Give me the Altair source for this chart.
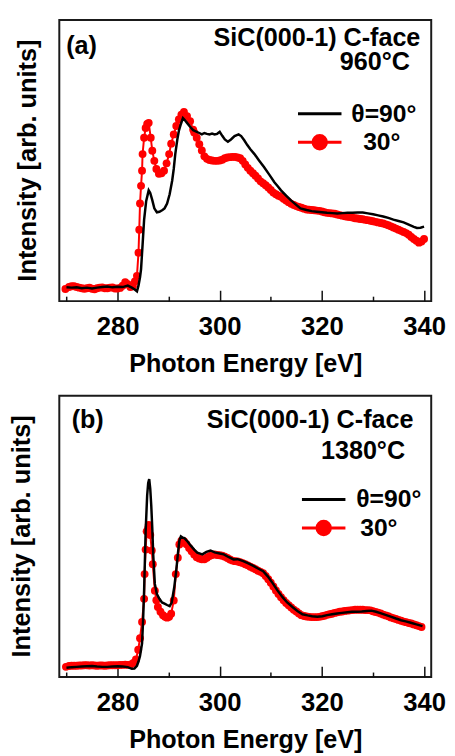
import altair as alt
import pandas as pd

# ---------------- data ----------------
# Panel (a): SiC(000-1) C-face, 960 C
a_black_e = [270.0, 271.0, 272.0, 273.0, 274.0, 275.0, 276.0, 277.0, 278.0, 279.0, 280.0, 281.0, 282.0,
             282.8, 283.3, 283.8, 284.1, 284.4, 284.6, 284.9, 285.2, 285.6, 286.1,
             286.4, 286.8, 287.2, 287.7, 288.2, 288.8, 289.2, 289.7, 290.2, 290.7,
             291.0, 291.3, 291.7, 292.0, 292.4, 292.8, 293.2, 293.6, 294.2, 294.8,
             295.2, 296.0, 296.5, 297.0, 297.5, 298.0, 298.5, 299.0, 299.5, 300.0,
             300.5, 301.0, 301.6, 302.2, 302.9, 303.7, 304.2, 304.8, 305.4, 306.0,
             306.8, 307.7, 308.7, 309.7, 310.7, 311.4, 312.0, 313.0, 313.9, 314.8,
             315.8, 317.0, 318.0, 319.0, 320.0, 321.0, 322.0, 323.0, 324.0, 325.0, 326.0,
             327.0, 328.0, 329.0, 330.0, 331.0, 332.0, 333.0, 334.0, 335.0, 336.0, 337.0, 338.0,
             338.6, 339.3, 340.0]
a_black_i = [4.9, 4.8, 4.9, 4.6, 4.8, 4.5, 4.8, 5.0, 5.2, 4.9, 5.1, 5.0, 5.5,
             4.8, 4.2, 3.5, 5.5, 8.5, 11.3, 20.0, 28.9, 35.5, 39.4,
             38.5, 35.9, 33.0, 31.6, 31.8, 32.4, 33.0, 34.7, 38.0, 42.9,
             47.0, 52.3, 57.5, 60.5, 63.0, 65.1, 64.3, 63.4, 62.0, 60.8,
             60.5, 59.8, 59.3, 59.8, 59.5, 59.3, 59.6, 59.3, 59.5, 60.2,
             58.8, 57.5, 56.7, 57.5, 58.7, 59.3, 58.7, 57.2, 55.5, 54.0,
             52.3, 50.0, 47.6, 45.0, 42.3, 40.8, 39.4, 37.5, 35.9, 34.5,
             33.0, 32.4, 32.0, 31.8, 31.6, 31.4, 31.3, 31.2, 31.3, 31.4, 31.4,
             31.5, 31.5, 31.2, 30.9, 30.5, 30.1, 29.6, 29.0, 28.5, 28.0, 27.2, 26.4,
             26.0, 26.1, 26.5]
a_red_e = [269.8, 270.5, 271.0, 271.5, 272.0, 272.5, 273.0, 273.5, 274.0, 274.5,
           275.0, 275.5, 276.0, 276.5, 277.0, 277.5, 278.0, 278.5, 279.0, 279.5,
           280.0, 280.5, 281.0, 281.5, 282.0, 282.5, 283.0,
           283.4, 283.8, 284.1, 284.25, 284.4, 284.6, 284.8, 284.9, 285.2, 285.5,
           285.8, 286.1, 286.5, 286.8, 287.2, 287.6, 288.1, 288.6, 289.1, 289.6,
           290.1, 290.5, 291.0, 291.5, 292.0, 292.5, 293.0, 293.6, 294.2, 294.8,
           295.0, 295.5, 296.0, 296.5, 297.0, 297.5, 298.0, 298.5, 299.0, 299.5,
           300.0, 300.5, 301.0, 301.5, 302.0, 302.5, 303.0, 303.5, 304.0, 304.5,
           305.0, 305.5, 306.0, 306.5, 307.0, 307.5, 308.0, 308.5, 309.0, 309.5,
           310.0, 310.5, 311.0, 311.5, 312.0, 312.5, 313.0, 313.5, 314.0, 314.5,
           315.0, 315.5, 316.0, 316.5, 317.0, 317.5, 318.0, 318.5, 319.0, 319.5,
           320.0, 320.5, 321.0, 321.5, 322.0, 322.5, 323.0, 323.5, 324.0, 324.5,
           325.0, 325.5, 326.0, 326.5, 327.0, 327.5, 328.0, 328.5, 329.0, 329.5,
           330.0, 330.5, 331.0, 331.5, 332.0, 332.5, 333.0, 333.5, 334.0, 334.5,
           335.0, 335.5, 336.0, 336.5, 337.0, 337.5, 338.0, 338.5, 339.0, 339.5,
           340.0]
a_red_i = [4.3, 5.0, 5.3, 5.3, 5.0, 4.8, 4.6, 4.4, 4.6, 4.8,
           4.4, 4.2, 4.6, 4.8, 4.9, 4.6, 4.6, 4.8, 4.9, 4.5,
           4.5, 4.7, 5.5, 6.7, 6.0, 5.0, 5.3,
           7.0, 9.0, 17.2, 25.4, 34.7, 41.0, 46.4, 52.3, 58.1, 61.6,
           63.0, 63.4, 58.1, 53.5, 49.9, 47.0, 45.3, 45.5, 46.4, 49.0,
           52.3, 56.0, 59.3, 62.3, 64.6, 66.3, 67.3, 65.8, 64.0, 61.0,
           60.0, 58.1, 55.8, 53.6, 51.5, 50.6, 50.2, 50.0, 49.9, 49.9,
           50.0, 50.3, 50.8, 51.1, 51.2, 51.3, 51.3, 51.1, 50.8, 49.9,
           48.6, 47.4, 46.4, 45.5, 44.6, 43.6, 42.6, 41.9, 41.2, 40.4,
           39.5, 38.6, 38.0, 37.5, 37.1, 36.4, 35.8, 35.2, 34.6, 34.2,
           33.8, 33.5, 33.2, 32.9, 32.6, 32.5, 32.4, 32.3, 32.2, 32.1,
           31.9, 31.6, 31.4, 31.3, 31.2, 31.1, 30.8, 30.6, 30.4, 30.2,
           30.0, 29.9, 29.7, 29.5, 29.4, 29.2, 29.1, 28.9, 28.8, 28.6,
           28.4, 28.2, 28.0, 27.8, 27.6, 27.3, 27.0, 26.6, 26.2, 25.8,
           25.4, 25.0, 24.6, 24.2, 23.6, 22.8, 22.1, 21.5, 20.8, 21.2,
           22.1]

# Panel (b): SiC(000-1) C-face, 1380 C
b_black_e = [270.0, 271.0, 272.0, 273.0, 274.0, 275.0, 276.0, 277.0, 278.0, 279.0, 280.0, 281.0, 282.0,
             282.8, 283.3, 283.8, 284.1, 284.4, 284.8, 285.0, 285.2, 285.5, 285.8,
             286.0, 286.2, 286.4, 286.6, 286.8, 287.0, 287.3, 287.7, 288.2, 288.7,
             289.2, 289.7, 290.2, 290.6, 291.1, 291.5, 291.8, 292.1, 292.4, 292.8,
             293.1, 293.7, 294.3, 295.0, 295.6, 296.6, 297.4, 298.2, 299.0, 300.0,
             300.8, 301.8, 302.7, 303.5, 304.6, 305.6, 306.6, 307.5, 308.5, 309.4,
             310.4, 311.3, 312.3, 313.2, 314.3, 315.2, 316.2, 317.2, 318.1, 319.1,
             320.1, 321.0, 322.0, 323.0, 323.9, 325.0, 325.9, 326.9, 327.8, 328.8,
             329.7, 330.6, 331.6, 332.6, 333.6, 334.5, 335.5, 336.4, 337.4, 338.5,
             339.7]
b_black_i = [3.3, 3.5, 3.6, 3.7, 3.8, 3.9, 3.7, 3.6, 3.6, 3.7, 3.8, 3.7, 3.5,
             2.9, 3.0, 4.0, 5.5, 7.5, 12.0, 20.0, 30.7, 51.8, 64.6,
             69.0, 70.4, 67.0, 61.0, 52.9, 43.0, 33.1, 29.5, 27.8, 26.5,
             26.1, 25.6, 25.2, 26.5, 31.9, 38.0, 43.6, 48.5, 50.0, 49.5,
             49.4, 48.2, 46.8, 45.3, 44.2, 43.6, 44.5, 45.0, 44.3, 43.9,
             43.6, 42.6, 41.8, 41.9, 41.2, 40.4, 39.5, 38.6, 37.6, 35.8,
             33.3, 30.8, 28.4, 26.5, 24.8, 23.5, 22.3, 21.9, 21.6, 21.4,
             21.6, 22.0, 22.3, 22.6, 22.8, 23.0, 23.2, 23.2, 23.3, 23.5,
             23.6, 23.2, 22.6, 22.0, 21.4, 20.8, 20.2, 19.8, 19.3, 18.7,
             18.1]
b_red_e = [269.9, 270.5, 271.0, 271.5, 272.0, 272.5, 273.0, 273.5, 274.0, 274.5,
           275.0, 275.5, 276.0, 276.5, 277.0, 277.5, 278.0, 278.5, 279.0, 279.5,
           280.0, 280.5, 281.0, 281.5, 282.0,
           282.6, 283.1, 283.6, 284.05, 284.4, 284.8, 285.2, 285.3, 285.5, 285.7,
           286.0, 286.1, 286.4, 286.7, 286.9, 287.3, 287.6, 287.9, 288.4, 288.9,
           289.3, 289.7, 290.1, 290.5, 291.0, 291.4, 291.8, 292.1,
           292.5, 293.0, 293.5, 294.0, 294.5, 295.0, 295.5, 296.0, 296.5, 297.0,
           297.5, 298.0, 298.5, 299.0, 299.5, 300.0, 300.5, 301.0, 301.5, 302.0,
           302.5, 303.0, 303.5, 304.0, 304.5, 305.0, 305.5, 306.0, 306.5, 307.0,
           307.5, 308.0, 308.5, 309.0, 309.5, 310.0, 310.5, 311.0, 311.5, 312.0,
           312.5, 313.0, 313.5, 314.0, 314.5, 315.0, 315.5, 316.0, 316.5, 317.0,
           317.5, 318.0, 318.5, 319.0, 319.5, 320.0, 320.5, 321.0, 321.5, 322.0,
           322.5, 323.0, 323.5, 324.0, 324.5, 325.0, 325.5, 326.0, 326.5, 327.0,
           327.5, 328.0, 328.5, 329.0, 329.5, 330.0, 330.5, 331.0, 331.5, 332.0,
           332.5, 333.0, 333.5, 334.0, 334.5, 335.0, 335.5, 336.0, 336.5, 337.0,
           337.5, 338.0, 338.5, 339.0, 339.5]
b_red_i = [3.6, 3.9, 4.0, 4.0, 4.0, 4.1, 4.1, 4.2, 4.2, 4.1,
           4.2, 4.1, 4.0, 4.1, 4.1, 4.0, 4.1, 4.2, 4.2, 4.2,
           4.2, 4.3, 4.3, 4.4, 4.3,
           4.5, 5.0, 6.2, 9.7, 13.8, 19.6, 27.8, 36.6, 45.3, 51.8,
           52.9, 54.1, 50.5, 45.0, 40.1, 30.7, 27.3, 24.9, 23.2, 22.0,
           21.4, 21.1, 21.4, 22.5, 27.2, 36.6, 42.4, 47.1,
           48.5, 48.3, 47.2, 45.9, 44.7, 43.6, 42.6, 42.1, 41.9, 41.9,
           42.4, 43.0, 43.4, 43.6, 43.4, 43.3, 43.1, 42.8, 42.3, 41.8,
           41.4, 41.2, 41.1, 40.8, 40.5, 40.1, 39.7, 39.2, 38.8, 38.3,
           37.8, 37.4, 36.9, 35.9, 34.8, 33.5, 32.2, 30.8, 29.5, 28.4,
           27.3, 26.3, 25.5, 24.7, 23.9, 23.3, 22.6, 22.0, 21.7, 21.5,
           21.4, 21.3, 21.3, 21.3, 21.4, 21.6, 21.8, 22.1, 22.3, 22.5,
           22.8, 23.0, 23.2, 23.3, 23.5, 23.6, 23.7, 23.8, 23.9, 23.9,
           23.9, 23.9, 23.8, 23.8, 23.7, 23.4, 23.1, 22.9, 22.6, 22.2,
           21.9, 21.6, 21.2, 20.9, 20.6, 20.3, 20.0, 19.7, 19.5, 19.2,
           19.0, 18.7, 18.4, 18.1, 17.8]

SERIES = ["θ=90°", "30°"]
COLORS = ["#000000", "#ff0000"]
X_DOMAIN = [268.6, 341.4]
Y_DOMAIN = [0, 100]
MAJOR_TICKS = [280, 300, 320, 340]
MINOR_TICKS = [270, 290, 310, 330]
Y_TITLE = "Intensity [arb. units]"
X_TITLE = "Photon Energy [eV]"

# legend glyphs (unit-square paths): plain line, and line with a filled dot
LINE_PATH = "M-1.52,0H1.52"
DOT_PATH = ("M-1.52,0H1.52M-0.47,0C-0.47,-0.26,-0.26,-0.47,0,-0.47"
            "C0.26,-0.47,0.47,-0.26,0.47,0C0.47,0.26,0.26,0.47,0,0.47"
            "C-0.26,0.47,-0.47,0.26,-0.47,0Z")
PATHS = [LINE_PATH, DOT_PATH]

FONT = "Liberation Sans"
W, H = 377, 285
TXT = 25.5


def txt(s, xy, align, angle=0, baseline="alphabetic", size=TXT):
    kw = dict(font=FONT, fontSize=size, fontWeight="bold", color="#000", align=align, baseline=baseline)
    if angle:
        kw["angle"] = angle
    return alt.Chart(pd.DataFrame({"t": [s]})).mark_text(**kw).encode(
        text="t:N", x=alt.value(xy[0]), y=alt.value(xy[1]))


def legend_entry(k, xy, lab_off):
    name = SERIES[k]
    lg = alt.Legend(orient="none", legendX=xy[0], legendY=xy[1], title=None, padding=0,
                    labelFont=FONT, labelFontSize=25, labelFontWeight="bold", labelColor="#000",
                    symbolSize=841, symbolStrokeWidth=3, labelOffset=lab_off, symbolOpacity=1)
    return alt.Chart(pd.DataFrame({"series": [name]})).transform_filter("false").mark_point(
        filled=True, opacity=1, strokeWidth=3
    ).encode(
        shape=alt.Shape("series:N", scale=alt.Scale(domain=[name], range=[PATHS[k]]), legend=lg),
        fill=alt.Fill("series:N", scale=alt.Scale(domain=[name], range=[COLORS[k]]), legend=lg),
        stroke=alt.Stroke("series:N", scale=alt.Scale(domain=[name], range=[COLORS[k]]), legend=lg),
    )


def panel(be, bi, re_, ri, tag, tag_xy, l1, l1_xy, l2, l2_xy, leg1, leg2, ytitle_x):
    black = pd.DataFrame({"e": be, "i": bi})
    red = pd.DataFrame({"e": re_, "i": ri})
    xs = alt.Scale(domain=X_DOMAIN, nice=False, zero=False)
    ys = alt.Scale(domain=Y_DOMAIN, nice=False, zero=False)

    major = alt.Axis(values=MAJOR_TICKS, orient="bottom", offset=-11, tickSize=11, tickWidth=1.5,
                     tickColor="#111", domain=False, grid=False, labelFont=FONT, labelFontSize=26,
                     labelFontWeight="bold", labelColor="#000", labelPadding=13, labelFlush=False,
                     labelOverlap=False, format="d", title=X_TITLE, titleFont=FONT,
                     titleFontSize=TXT, titleFontWeight="bold", titleColor="#000", titlePadding=12)
    minor = alt.Axis(values=MINOR_TICKS, orient="bottom", offset=-5, tickSize=5, tickWidth=1.5,
                     tickColor="#111", domain=False, grid=False, labels=False, title=None)

    red_line = alt.Chart(red).mark_line(color=COLORS[1], strokeWidth=2).encode(
        x=alt.X("e:Q", scale=xs, axis=major),
        y=alt.Y("i:Q", scale=ys, axis=None),
    )
    red_pts = alt.Chart(red).mark_circle(color=COLORS[1], size=64, opacity=1).encode(
        x=alt.X("e:Q", scale=xs, axis=None),
        y=alt.Y("i:Q", scale=ys, axis=None),
    )
    black_line = alt.Chart(black).mark_line(color=COLORS[0], strokeWidth=2.5).encode(
        x=alt.X("e:Q", scale=xs, axis=minor),
        y=alt.Y("i:Q", scale=ys, axis=None),
    )

    return alt.layer(
        red_line, red_pts, black_line,
        legend_entry(0, leg1[0], leg1[1]), legend_entry(1, leg2[0], leg2[1]),
        txt(tag, tag_xy, "left"), txt(l1, l1_xy, "right"), txt(l2, l2_xy, "right"),
        txt(Y_TITLE, (ytitle_x, H / 2), "center", angle=270, baseline="bottom", size=25.7),
    ).resolve_axis(x="independent").resolve_scale(
        shape="independent", fill="independent", stroke="independent"
    ).resolve_legend(
        shape="independent", fill="independent", stroke="independent"
    ).properties(width=W, height=H)


pa = panel(a_black_e, a_black_i, a_red_e, a_red_i,
           "(a)", (7, 34), "SiC(000-1) C-face", (366, 26.7), "960°C", (355.5, 51),
           ((248, 79), 16), ((248, 108), 28), -18.5)
pb = panel(b_black_e, b_black_i, b_red_e, b_red_i,
           "(b)", (12.5, 33), "SiC(000-1) C-face", (359, 32.6), "1380°C", (350.5, 64.3),
           ((252, 89), 17), ((252, 118), 21), -24.7)

chart = alt.vconcat(pa, pb, spacing=17).resolve_scale(
    fill="independent", stroke="independent", shape="independent"
).resolve_legend(
    fill="independent", stroke="independent", shape="independent"
).properties(
    padding={"left": 0, "top": 6, "right": 0, "bottom": 0}, background="white"
).configure_view(stroke="#1a1a1a", strokeWidth=2)

chart.save("out.html", embed_options={"renderer": "svg", "actions": False})
